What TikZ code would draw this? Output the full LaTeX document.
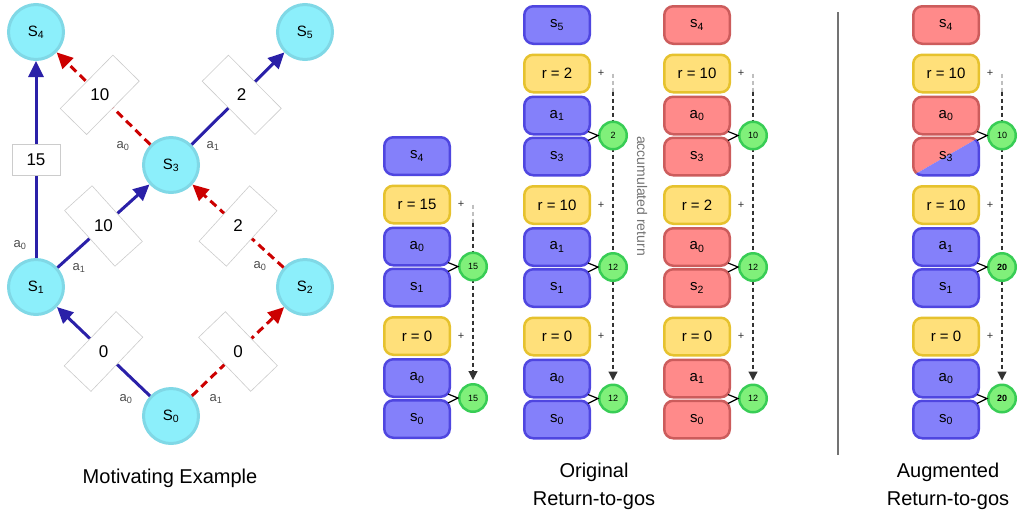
\documentclass[tikz,border=0pt]{standalone}
\usepackage{fontspec}
\setmainfont{Liberation Sans}
\usepackage{xcolor}
\usetikzlibrary{positioning,arrows.meta,calc}

\definecolor{edgeblue}{HTML}{2A20A8}
\definecolor{edgered}{HTML}{CC0000}
\definecolor{stfill}{HTML}{8CEFFB}
\definecolor{stline}{HTML}{80D8E6}
\definecolor{bfill}{HTML}{8480FA}
\definecolor{bline}{HTML}{4F46E0}
\definecolor{rfill}{HTML}{FF8A8A}
\definecolor{rline}{HTML}{CC5C5C}
\definecolor{yfill}{HTML}{FFE07A}
\definecolor{yline}{HTML}{E6C22E}
\definecolor{gfill}{HTML}{80F07A}
\definecolor{gline}{HTML}{38CD55}
\newcommand{\lsub}[1]{\textsubscript{#1}}

\begin{document}
\begin{tikzpicture}[
    x=1pt, y=-1pt,
    st/.style={circle, fill=stfill, draw=stline, line width=3pt, minimum size=55pt, inner sep=0pt, font=\fontsize{15}{17}\selectfont},
    bluepath/.style={draw=edgeblue, line width=3pt, -{Triangle[length=16pt,width=15pt]}},
    redpath/.style={draw=edgered, line width=3pt, dash pattern=on 8pt off 5pt, -{Triangle[length=16pt,width=15pt]}},
    wbox/.style={draw=black!20, fill=white, solid, line width=0.6pt, sloped, inner sep=0pt, minimum width=37pt, minimum height=75pt},
    wboxv/.style={wbox, minimum width=31pt, minimum height=48pt},
    wnum/.style={font=\fontsize{17}{19}\selectfont},
    act/.style={text=black!70, font=\fontsize{13}{15}\selectfont},
    rtg/.style={rectangle, rounded corners=9pt, line width=2.5pt, minimum width=65.5pt, minimum height=37.5pt, inner sep=0pt, font=\fontsize{15}{17}\selectfont},
    bbox/.style={rtg, fill=bfill, draw=bline},
    rbox/.style={rtg, fill=rfill, draw=rline},
    ybox/.style={rtg, fill=yfill, draw=yline},
    gc/.style={circle, fill=gfill, draw=gline, line width=2.5pt, minimum size=27.5pt, inner sep=0pt, font=\fontsize{9}{10}\selectfont},
    brk/.style={draw=black, line width=1.2pt},
    plus/.style={text=black!80, font=\fontsize{11}{12}\selectfont},
    acc/.style={draw=black!80, line width=1.2pt, dash pattern=on 4pt off 3pt, -{Triangle[length=9pt,width=9pt]}},
    accfade/.style={draw=black!25, line width=1.2pt, dash pattern=on 4pt off 3pt},
    acclbl/.style={text=black!55, font=\fontsize{14}{16}\selectfont},
    divider/.style={draw=black!55, line width=1.5pt},
    title/.style={align=center, font=\fontsize{20}{28}\selectfont}
  ]
    \useasboundingbox (0,0) rectangle (1019,515);

    % motivating example
    \node[st] (S4) at (36,32) {S\lsub{4}};
    \node[st] (S5) at (305,32) {S\lsub{5}};
    \node[st] (S3) at (171,165) {S\lsub{3}};
    \node[st] (S1) at (36,287) {S\lsub{1}};
    \node[st] (S2) at (305,287) {S\lsub{2}};
    \node[st] (S0) at (171,416) {S\lsub{0}};

    \draw[bluepath] (S0) -- node[wbox] {} node[wnum] {0} (S1);
    \draw[redpath] (S0) -- node[wbox] {} node[wnum] {0} (S2);
    \draw[bluepath] (S1) -- node[wboxv] {} node[wnum] {15} (S4);
    \draw[bluepath] (S1) -- node[wbox] {} node[wnum] {10} (S3);
    \draw[redpath] (S2) -- node[wbox] {} node[wnum] {2} (S3);
    \draw[redpath] (S3) -- node[wbox, pos=.54] {} node[wnum, pos=.54] {10} (S4);
    \draw[bluepath] (S3) -- node[wbox, pos=.54] {} node[wnum, pos=.54] {2} (S5);

    \node[act] at (20,245) {a\lsub{0}};
    \node[act] at (79,268) {a\lsub{1}};
    \node[act] at (123,146) {a\lsub{0}};
    \node[act] at (213,146) {a\lsub{1}};
    \node[act] at (260,266) {a\lsub{0}};
    \node[act] at (126,399) {a\lsub{0}};
    \node[act] at (216,399) {a\lsub{1}};

    \node[title] (t-mot) at (170,478) {Motivating Example};

    % original return-to-gos, first trajectory
    \node[bbox] (k-s4) at (417,156) {s\lsub{4}};
    \node[ybox, below=8.5pt of k-s4] (k-r1) {r = 15};
    \node[bbox, below=2pt of k-r1] (k-a1) {a\lsub{0}};
    \node[bbox, below=1pt of k-a1] (k-s1) {s\lsub{1}};
    \node[ybox, below=8.5pt of k-s1] (k-r0) {r = 0};
    \node[bbox, below=2pt of k-r0] (k-a0) {a\lsub{0}};
    \node[bbox, below=1pt of k-a0] (k-s0) {s\lsub{0}};

    % original return-to-gos, second trajectory
    \node[bbox] (b-s5) at (557,25) {s\lsub{5}};
    \node[ybox, below=8.5pt of b-s5] (b-r2) {r = 2};
    \node[bbox, below=2pt of b-r2] (b-a2) {a\lsub{1}};
    \node[bbox, below=1pt of b-a2] (b-s2) {s\lsub{3}};
    \node[ybox, below=8.5pt of b-s2] (b-r1) {r = 10};
    \node[bbox, below=2pt of b-r1] (b-a1) {a\lsub{1}};
    \node[bbox, below=1pt of b-a1] (b-s1) {s\lsub{1}};
    \node[ybox, below=8.5pt of b-s1] (b-r0) {r = 0};
    \node[bbox, below=2pt of b-r0] (b-a0) {a\lsub{0}};
    \node[bbox, below=1pt of b-a0] (b-s0) {s\lsub{0}};

    % original return-to-gos, third trajectory
    \node[rbox] (r-s4) at (697,25) {s\lsub{4}};
    \node[ybox, below=8.5pt of r-s4] (r-r2) {r = 10};
    \node[rbox, below=2pt of r-r2] (r-a2) {a\lsub{0}};
    \node[rbox, below=1pt of r-a2] (r-s2) {s\lsub{3}};
    \node[ybox, below=8.5pt of r-s2] (r-r1) {r = 2};
    \node[rbox, below=2pt of r-r1] (r-a1) {a\lsub{0}};
    \node[rbox, below=1pt of r-a1] (r-s1) {s\lsub{2}};
    \node[ybox, below=8.5pt of r-s1] (r-r0) {r = 0};
    \node[rbox, below=2pt of r-r0] (r-a0) {a\lsub{1}};
    \node[rbox, below=1pt of r-a0] (r-s0) {s\lsub{0}};

    % augmented return-to-gos
    \node[rbox] (u-s4) at (946,25) {s\lsub{4}};
    \node[ybox, below=8.5pt of u-s4] (u-r2) {r = 10};
    \node[rbox, below=2pt of u-r2] (u-a2) {a\lsub{0}};
    \node[rtg, below=1pt of u-a2] (u-s2) {};
    \node[ybox, below=8.5pt of u-s2] (u-r1) {r = 10};
    \node[bbox, below=2pt of u-r1] (u-a1) {a\lsub{1}};
    \node[bbox, below=1pt of u-a1] (u-s1) {s\lsub{1}};
    \node[ybox, below=8.5pt of u-s1] (u-r0) {r = 0};
    \node[bbox, below=2pt of u-r0] (u-a0) {a\lsub{0}};
    \node[bbox, below=1pt of u-a0] (u-s0) {s\lsub{0}};

    % split state box
    \coordinate (u-nw) at ([shift={(1.25pt,-1.25pt)}]u-s2.north west);
    \coordinate (u-se) at ([shift={(-1.25pt,1.25pt)}]u-s2.south east);
    \coordinate (u-ne) at ([shift={(-1.25pt,-1.25pt)}]u-s2.north east);
    \coordinate (u-sw) at ([shift={(1.25pt,1.25pt)}]u-s2.south west);
    \begin{scope}
      \clip ($(u-sw)!-0.3!(u-ne)$) -- ($(u-sw)!1.3!(u-ne)$) -- ([shift={(-20pt,20pt)}]u-nw) -- cycle;
      \draw[rbox] [rounded corners=9pt] (u-nw) rectangle (u-se);
    \end{scope}
    \begin{scope}
      \clip ($(u-sw)!-0.3!(u-ne)$) -- ($(u-sw)!1.3!(u-ne)$) -- ([shift={(20pt,-20pt)}]u-se) -- cycle;
      \draw[bbox] [rounded corners=9pt] (u-nw) rectangle (u-se);
    \end{scope}
    \node[font=\fontsize{15}{17}\selectfont] at (u-s2) {s\lsub{3}};

    % accumulated return
    \foreach \c in {b,r,u} {
      \coordinate (\c-top) at ([xshift=22pt]\c-r2.east);
      \coordinate (\c-mid) at ([xshift=22pt,yshift=-18pt]\c-r2.east);
      \coordinate (\c-end) at ([xshift=22pt,yshift=18pt]\c-a0.south east);
      \draw[accfade] (\c-top) -- (\c-mid);
      \draw[acc] (\c-mid) -- (\c-end);
      \node[plus] at ([xshift=10pt]\c-r2.east) {+};
      \node[plus] at ([xshift=10pt]\c-r1.east) {+};
      \node[plus] at ([xshift=10pt]\c-r0.east) {+};
    }
    \coordinate (k-top) at ([xshift=22pt]k-r1.east);
    \coordinate (k-mid) at ([xshift=22pt,yshift=-18pt]k-r1.east);
    \coordinate (k-end) at ([xshift=22pt,yshift=18pt]k-a0.south east);
    \draw[accfade] (k-top) -- (k-mid);
    \draw[acc] (k-mid) -- (k-end);
    \node[plus] at ([xshift=10pt]k-r1.east) {+};
    \node[plus] at ([xshift=10pt]k-r0.east) {+};

    \node[gc, right=7pt of k-a1.south east] (k-g1) {15};
    \node[gc, right=7pt of k-a0.south east] (k-g0) {15};
    \node[gc, right=7pt of b-a2.south east] (b-g2) {2};
    \node[gc, right=7pt of b-a1.south east] (b-g1) {12};
    \node[gc, right=7pt of b-a0.south east] (b-g0) {12};
    \node[gc, right=7pt of r-a2.south east] (r-g2) {10};
    \node[gc, right=7pt of r-a1.south east] (r-g1) {12};
    \node[gc, right=7pt of r-a0.south east] (r-g0) {12};
    \node[gc, right=7pt of u-a2.south east] (u-g2) {10};
    \node[gc, right=7pt of u-a1.south east] (u-g1) {\textbf{20}};
    \node[gc, right=7pt of u-a0.south east] (u-g0) {\textbf{20}};

    \foreach \c/\n in {k/1, k/0, b/2, b/1, b/0, r/2, r/1, r/0, u/2, u/1, u/0}
      \draw[brk] ([shift={(-3pt,4pt)}]\c-a\n.south east) -- (\c-g\n.west) -- ([shift={(-3pt,-4pt)}]\c-s\n.north east);

    \node[acclbl, rotate=-90] at (642,196) {accumulated return};
    \draw[divider] (838,12) -- (838,455);

    \node[title] (t-org) at (594,486) {Original\\Return-to-gos};
    \node[title] (t-aug) at (948,486) {Augmented\\Return-to-gos};
  \end{tikzpicture}
\end{document}
